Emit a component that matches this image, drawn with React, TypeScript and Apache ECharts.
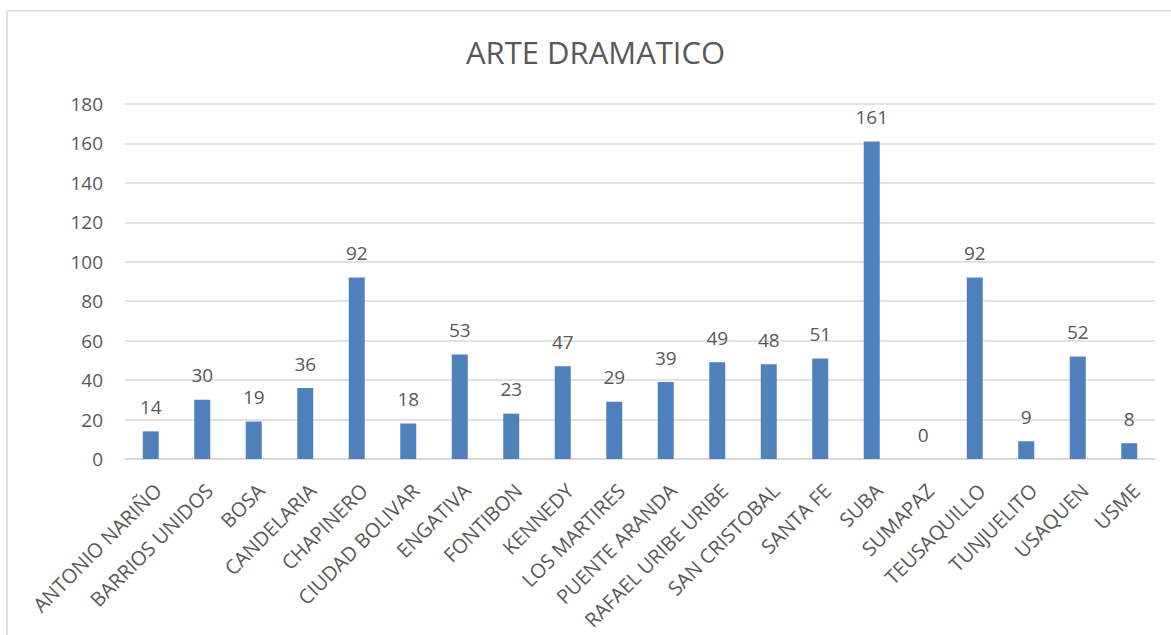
import React, { useEffect, useRef } from "react";
import * as echarts from "echarts";

const title = "ARTE DRAMATICO";
const categories = [
  "ANTONIO NARIÑO",
  "BARRIOS UNIDOS",
  "BOSA",
  "CANDELARIA",
  "CHAPINERO",
  "CIUDAD BOLIVAR",
  "ENGATIVA",
  "FONTIBON",
  "KENNEDY",
  "LOS MARTIRES",
  "PUENTE ARANDA",
  "RAFAEL URIBE URIBE",
  "SAN CRISTOBAL",
  "SANTA FE",
  "SUBA",
  "SUMAPAZ",
  "TEUSAQUILLO",
  "TUNJUELITO",
  "USAQUEN",
  "USME",
];
const values = [14, 30, 19, 36, 92, 18, 53, 23, 47, 29, 39, 49, 48, 51, 161, 0, 92, 9, 52, 8];
const yMin = 0;
const yMax = 180;
const yStep = 20;

const FONT = "'Open Sans', 'Noto Sans', sans-serif";
const TEXT = "#595959";

export default function App() {
  const ref = useRef<HTMLDivElement>(null);
  useEffect(() => {
    if (!ref.current) return;
    const chart = echarts.init(ref.current, null, { renderer: "svg" });
    chart.setOption({
      animation: false,
      backgroundColor: "#ffffff",
      textStyle: { fontFamily: FONT },
      title: {
        text: title,
        left: 461,
        top: 31,
        textStyle: { fontFamily: FONT, fontSize: 31, fontWeight: "normal", color: TEXT },
      },
      graphic: [
        {
          type: "rect",
          shape: { x: 7, y: 11, width: 1200, height: 700 },
          style: { fill: "none", stroke: "#D9D9D9", lineWidth: 1.5 },
          silent: true,
        },
      ],
      grid: { left: 125, right: 16, top: 104, bottom: 176, containLabel: false },
      xAxis: {
        type: "category",
        data: categories,
        axisLine: { show: true, lineStyle: { color: "#D9D9D9", width: 1.5 } },
        axisTick: { show: false },
        axisLabel: {
          rotate: 45,
          interval: 0,
          margin: 21,
          verticalAlign: "top",
          color: TEXT,
          fontSize: 20,
          fontFamily: FONT,
        },
      },
      yAxis: {
        type: "value",
        min: yMin,
        max: yMax,
        interval: yStep,
        axisLine: { show: false },
        axisTick: { show: false },
        axisLabel: { color: TEXT, fontSize: 19, fontFamily: FONT, margin: 22 },
        splitLine: { lineStyle: { color: "#D9D9D9", width: 1.5 } },
      },
      series: [
        {
          type: "bar",
          data: values,
          barWidth: 16,
          itemStyle: { color: "#4F81BD" },
          label: {
            show: true,
            position: "top",
            distance: 15,
            color: TEXT,
            fontSize: 19,
            fontFamily: FONT,
          },
        },
      ],
    });
    return () => chart.dispose();
  }, []);
  return (
    <div
      ref={ref}
      style={{ position: "fixed", left: 0, top: 0, width: 1171, height: 635 }}
    />
  );
}
